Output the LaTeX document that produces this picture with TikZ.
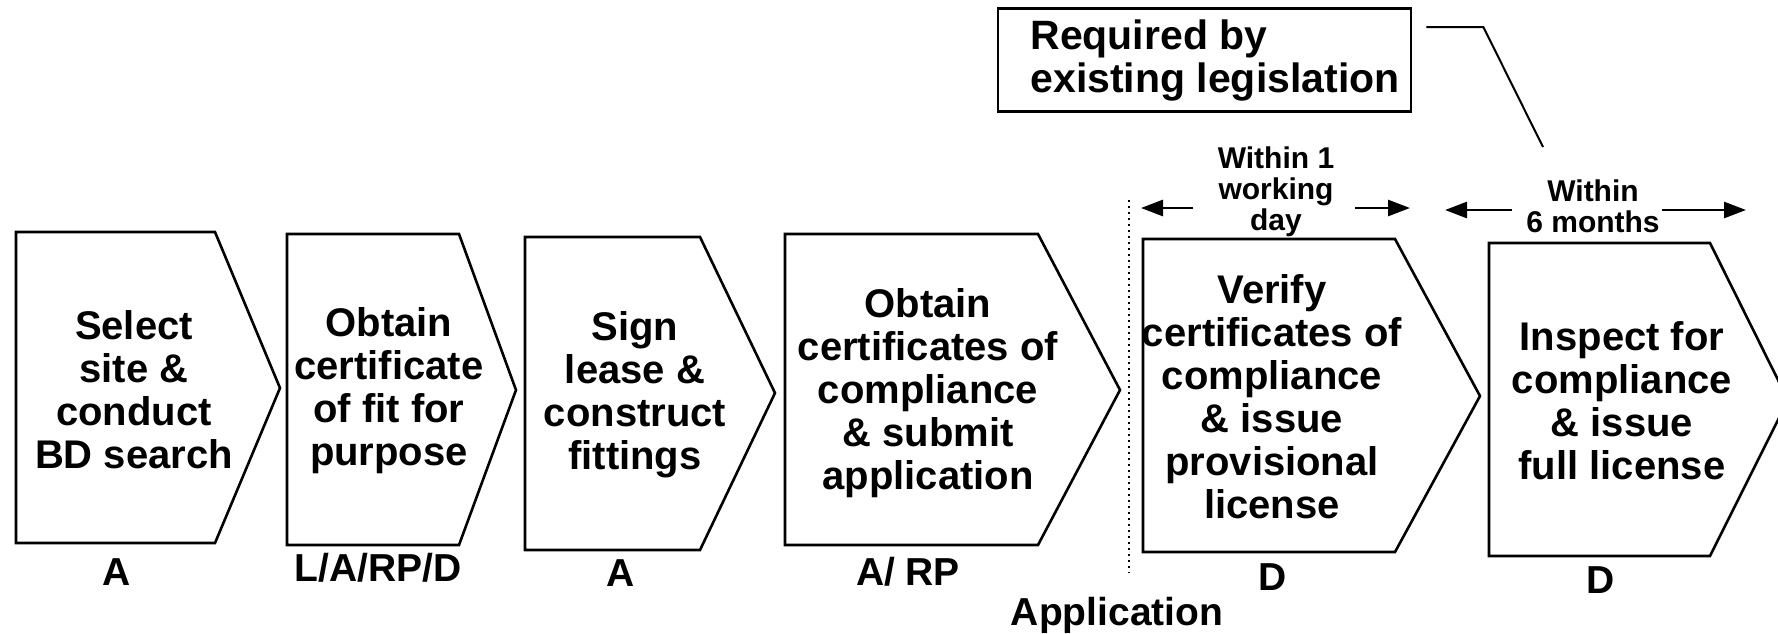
\documentclass[tikz,border=0pt]{standalone}
\usepackage{fontspec}
\setmainfont{Liberation Sans}
\usetikzlibrary{arrows.meta}

\begin{document}
\begin{tikzpicture}[x=0.5pt, y=-0.5pt,
	chevron/.style={draw, line width=1.3pt, line join=miter},
	boxtext/.style={align=center, inner sep=0pt, font=\fontsize{20}{21.5}\selectfont\bfseries},
	who/.style={inner sep=0pt, font=\fontsize{19.5}{21}\selectfont\bfseries},
	timing/.style={align=center, inner sep=0pt, font=\fontsize{15}{15.5}\selectfont\bfseries},
	span/.style={line width=1.4pt, -{Triangle[length=11pt, width=8pt]}},
	note/.style={draw, line width=1.4pt, align=left, minimum width=206.5pt, minimum height=51.5pt, font=\fontsize{20.5}{21.5}\selectfont\bfseries}]
	\useasboundingbox (0,0) rectangle (1778,633);

	% the six steps
	\draw[chevron] (16,232) -- (215,232) -- (280,388) -- (215,543) -- (16,543) -- cycle;
	\draw[chevron] (287,234) -- (459,234) -- (516,390) -- (459,545) -- (287,545) -- cycle;
	\draw[chevron] (525,237) -- (700,237) -- (775,393) -- (700,550) -- (525,550) -- cycle;
	\draw[chevron] (785,234) -- (1038,234) -- (1120,390) -- (1038,545) -- (785,545) -- cycle;
	\draw[chevron] (1143,239) -- (1395,239) -- (1480,396) -- (1395,552) -- (1143,552) -- cycle;
	\draw[chevron] (1489,243) -- (1710,243) -- (1788,400) -- (1710,556) -- (1489,556) -- cycle;

	\node[boxtext] (select) at (134,390) {Select\\site \&\\conduct\\BD search};
	\node[boxtext] (fitcert) at (389,391) {Obtain\\certificate\\of fit for\\purpose};
	\node[boxtext] (lease) at (635,395) {Sign\\lease \&\\construct\\fittings};
	\node[boxtext] (submit) at (928,393) {Obtain\\certificates of\\compliance\\\& submit\\application};
	\node[boxtext] (verify) at (1272,397) {Verify\\certificates of\\compliance\\\& issue\\provisional\\license};
	\node[boxtext] (inspect) at (1622,401) {Inspect for\\compliance\\\& issue\\full license};

	% who does it
	\node[who] (who1) at (117,572) {A};
	\node[who] (who2) at (378,568) {L/A/RP/D};
	\node[who] (who3) at (621,573) {A};
	\node[who] (who4) at (908,572) {A/ RP};
	\node[who] (who5) at (1273,577) {D};
	\node[who] (who6) at (1601,580) {D};
	\node[who] (appl) at (1117,615) {Application};

	% application line
	\coordinate (sepTop) at (1129,200);
	\coordinate (sepBot) at (1129,573);
	\draw[dotted, line width=1pt] (sepTop) -- (sepBot);

	% time limits
	\node[timing] (oneday) at (1276,192) {Within 1\\working\\day};
	\node[timing] (sixmonths) at (1593,206) {Within\\6 months};
	\coordinate (dayL1) at (1193,208);
	\coordinate (dayL2) at (1141,208);
	\coordinate (dayR1) at (1355,208);
	\coordinate (dayR2) at (1410,208);
	\coordinate (monL1) at (1512,210);
	\coordinate (monL2) at (1445,210);
	\coordinate (monR1) at (1662,210);
	\coordinate (monR2) at (1746,210);
	\draw[span] (dayL1) -- (dayL2);
	\draw[span] (dayR1) -- (dayR2);
	\draw[span] (monL1) -- (monL2);
	\draw[span] (monR1) -- (monR2);

	% legislation note
	\node[note] (legal) at (1204.5,60) {\hspace*{10.5pt}Required by\\\hspace*{10.5pt}existing legislation};
	\coordinate (leadend) at (1543,147);
	\draw[line width=1pt] ([shift={(14,20)}]legal.north east) -- ++(57,0) -- (leadend);
\end{tikzpicture}
\end{document}
